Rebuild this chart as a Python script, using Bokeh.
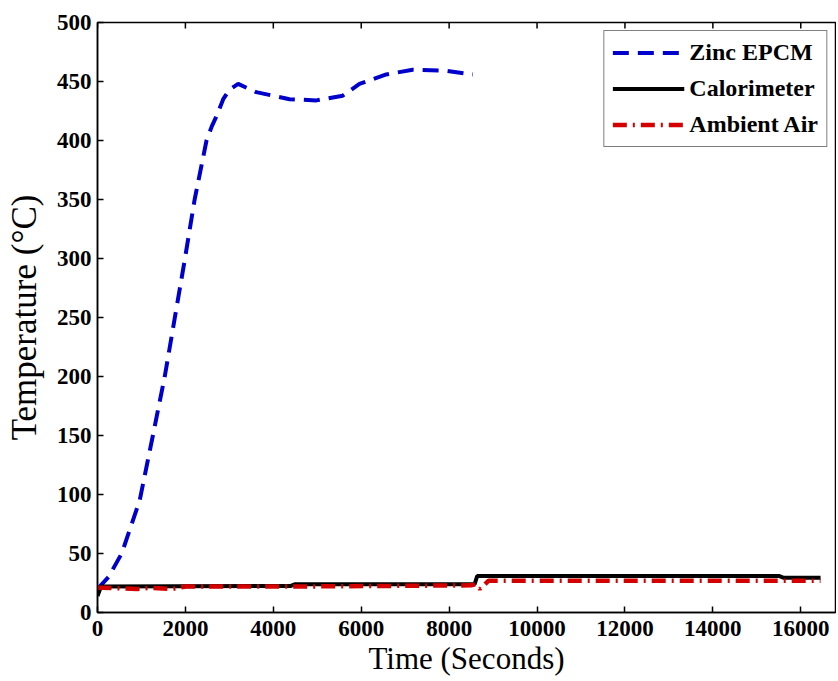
from bokeh.plotting import figure
from bokeh.models import FixedTicker, Range1d, Legend, LegendItem
from bokeh.embed import file_html
from bokeh.resources import INLINE

# ---- data ----
time_zinc = [0, 250, 550, 960, 1260, 1530, 1760, 1990, 2210, 2480, 2600, 2700, 2860, 3000, 3200,
             3610, 4370, 4980, 5580, 5960, 6570, 7170, 7930, 8540]
temp_zinc = [20, 30, 50, 95, 150, 200, 250, 300, 350, 400, 412, 420, 435, 443, 448,
             441, 435, 434, 438, 448, 456, 460, 459, 456]

time_cal = [0, 80, 4400, 4500, 8580, 8640, 15500, 15600, 16450]
temp_cal = [14, 22, 22.5, 24, 24, 31, 31, 29.5, 29.5]

time_air = [0, 100, 900, 1200, 1700, 2000, 4400, 8500, 8600, 8700, 8900, 16450]
temp_air = [21, 21, 20, 21, 20, 22, 22, 23, 24, 20, 27, 27]

x_ticks = [0, 2000, 4000, 6000, 8000, 10000, 12000, 14000, 16000]
y_ticks = [0, 50, 100, 150, 200, 250, 300, 350, 400, 450, 500]
x_min, x_max = 0, 16790
y_min, y_max = 0, 500

series_names = ["Zinc EPCM", "Calorimeter", "Ambient Air"]
x_label = "Time (Seconds)"
y_label = "Temperature (\u00b0C)"

FONT = "Liberation Serif"
FRAME_H = 590

p = figure(frame_width=738, frame_height=FRAME_H, output_backend="svg", toolbar_location=None,
           x_range=Range1d(x_min, x_max), y_range=Range1d(y_min, y_max),
           min_border_left=97, min_border_top=22, min_border_right=1, min_border_bottom=0,
           background_fill_color="white", border_fill_color="white")
p.grid.visible = False
p.outline_line_color = "black"
p.outline_line_width = 1.5

r_zinc = p.line(time_zinc, temp_zinc, line_color="#0000cc", line_width=4, line_dash="16 9")
r_cal = p.line(time_cal, temp_cal, line_color="black", line_width=4)
r_air = p.line(time_air, temp_air, line_color="#d40000", line_width=4.5, line_dash="14 6 2 6")

# inward ticks along the top edge, at the same x tick values
tick_len = 6 * (y_max - y_min) / FRAME_H
p.segment(x0=x_ticks, x1=x_ticks, y0=[y_max] * len(x_ticks),
          y1=[y_max - tick_len] * len(x_ticks), line_color="black", line_width=1.5)

for ax in (p.xaxis[0], p.yaxis[0]):
    ax.major_tick_in = 6
    ax.major_tick_out = 0
    ax.minor_tick_line_color = None
    ax.axis_line_width = 1.5
    ax.major_tick_line_width = 1.5
    ax.major_label_text_font = FONT
    ax.major_label_text_font_style = "bold"
    ax.major_label_text_font_size = "23px"
    ax.major_label_text_color = "black"
    ax.axis_label_text_font = FONT
    ax.axis_label_text_font_style = "normal"
    ax.axis_label_text_color = "black"

p.xaxis[0].ticker = FixedTicker(ticks=x_ticks)
p.yaxis[0].ticker = FixedTicker(ticks=y_ticks)
p.xaxis[0].axis_label = x_label
p.yaxis[0].axis_label = y_label
p.xaxis[0].axis_label_text_font_size = "31px"
p.yaxis[0].axis_label_text_font_size = "35px"
p.xaxis[0].major_label_standoff = 8
p.xaxis[0].axis_label_standoff = 2
p.yaxis[0].major_label_standoff = 6
p.yaxis[0].axis_label_standoff = 10

legend = Legend(items=[LegendItem(label=series_names[0], renderers=[r_zinc]),
                       LegendItem(label=series_names[1], renderers=[r_cal]),
                       LegendItem(label=series_names[2], renderers=[r_air])],
                location="top_right", margin=8, padding=8, spacing=9,
                glyph_width=72, glyph_height=25, label_standoff=5,
                label_text_font=FONT, label_text_font_style="bold",
                label_text_font_size="24px", label_text_color="black",
                border_line_color="black",
                border_line_width=1.5, background_fill_alpha=1.0)
p.add_layout(legend, "center")

open("out.html", "w").write(file_html(p, INLINE))
